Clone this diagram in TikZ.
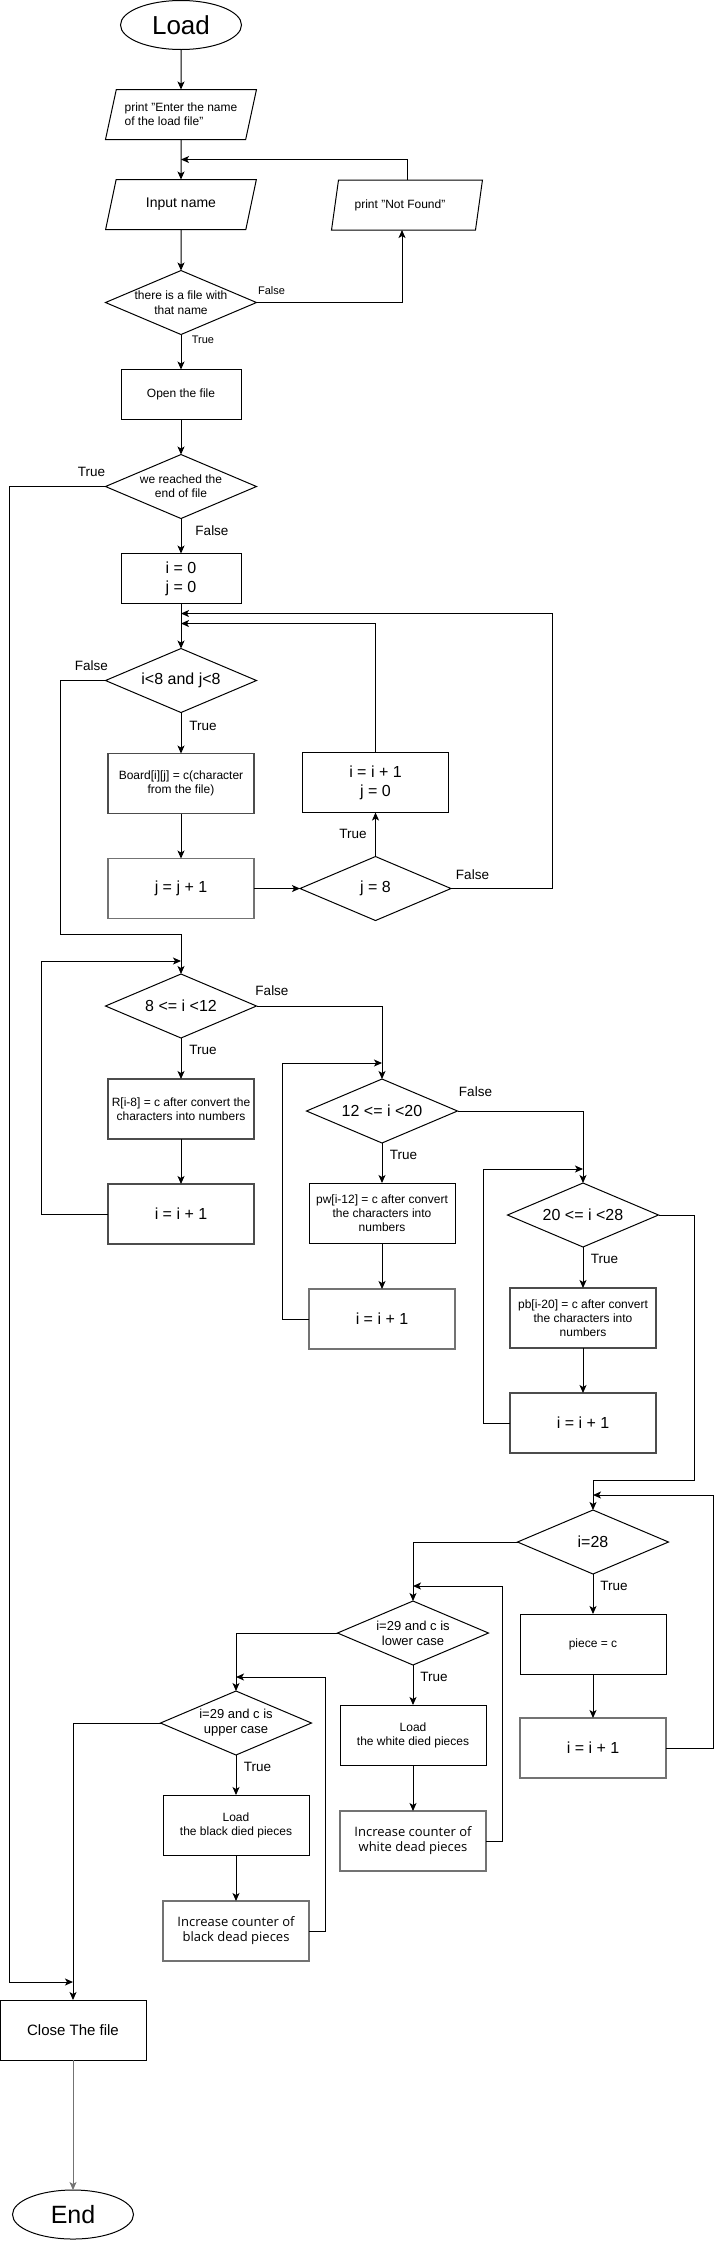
\documentclass[tikz,border=0pt]{standalone}
\usepackage{fontspec}
\setmainfont{Liberation Sans}
\newfontfamily\countfont{Open Sans}
\usetikzlibrary{shapes.geometric, arrows.meta, positioning, calc}
\newcommand{\fsz}[2]{\fontsize{#1pt}{#2pt}\selectfont}
\tikzset{
    terminal/.style={ellipse, draw, minimum width=121pt, minimum height=49pt, inner sep=0pt, font=\fsz{26}{30}},
    io/.style={trapezium, trapezium left angle=70, trapezium right angle=110, trapezium stretches=true, draw, minimum width=151pt, minimum height=50pt, inner sep=2pt, align=left, font=\fsz{12}{14}},
    box/.style={rectangle, draw, minimum width=146pt, minimum height=60pt, inner sep=2pt, align=center, font=\fsz{12}{14}},
    smallbox/.style={box, minimum width=120pt, minimum height=50pt},
    softbox/.style={box, draw=black!70, line width=1.3pt},
    graybox/.style={box, draw=black!55, line width=1.7pt},
    decision/.style={diamond, draw, minimum width=151pt, minimum height=64pt, inner sep=0pt},
    dtext/.style={align=center, inner sep=0pt},
    arrow/.style={-{Stealth[length=8pt, width=7pt, inset=2pt]}},
    lbl/.style={font=\fsz{13.5}{15}, inner sep=0pt},
    smalllbl/.style={font=\fsz{11}{13}, inner sep=0pt}
}
\begin{document}
\begin{tikzpicture}[x=1pt, y=-1pt, line width=1pt, every node/.style={outer sep=0pt}]
    \useasboundingbox (0,0) rectangle (719,2241);

    % start and file name
    \node[terminal] (load) at (181,25) {Load};
    \node[io, below=40pt of load] (enter) {print "Enter the name\\of the load file"};
    \node[io, below=40pt of enter, font=\fsz{14}{16}, align=center] (input) {Input name};
    \node[io, align=center] (notfound) at (407,205) {print "Not Found"\hspace*{14pt}};
    \node[decision, below=41pt of input, label={[dtext, font=\fsz{12}{14.5}]center:{there is a file with\\that name}}] (exists) {};
    \node[smallbox, below=35pt of exists] (open) {Open the file};

    % end of file check
    \node[decision, below=35pt of open, label={[dtext, font=\fsz{12}{14}]center:{we reached the\\end of file}}] (eof) {};
    \node[smallbox, below=35pt of eof, font=\fsz{16}{19}] (init) {i = 0\\j = 0};

    % board loop
    \node[decision, below=45pt of init, label={[dtext, font=\fsz{16}{19}]center:{i<8 and j<8}}] (inner) {};
    \node[softbox, below=41pt of inner] (board) {Board[i][j] = c(character\\from the file)};
    \node[graybox, below=45pt of board, font=\fsz{16}{19}] (jinc) {j = j + 1};
    \node[decision, right=46pt of jinc, label={[dtext, font=\fsz{16}{19}]center:{j = 8}}] (jeight) {};
    \node[box, above=44pt of jeight, font=\fsz{16}{19}] (inext) {i = i + 1\\j = 0};

    % R array
    \node[decision, label={[dtext, font=\fsz{16}{19}]center:{8 <= i <12}}] (rrange) at (181,1006) {};
    \node[softbox, below=41pt of rrange] (rset) {R[i-8] = c after convert the\\characters into numbers};
    \node[softbox, below=45pt of rset, font=\fsz{16}{19}] (rinc) {i = i + 1};

    % white pieces
    \node[decision, label={[dtext, font=\fsz{16}{19}]center:{12 <= i <20}}] (wrange) at (382,1111) {};
    \node[box, below=40pt of wrange] (wset) {pw[i-12] = c after convert\\the characters into\\numbers};
    \node[graybox, below=46pt of wset, font=\fsz{16}{19}] (winc) {i = i + 1};

    % black pieces
    \node[decision, label={[dtext, font=\fsz{16}{19}]center:{20 <= i <28}}] (brange) at (583,1215) {};
    \node[softbox, below=41pt of brange] (bset) {pb[i-20] = c after convert\\the characters into\\numbers};
    \node[softbox, below=45pt of bset, font=\fsz{16}{19}] (binc) {i = i + 1};

    % piece and dead pieces
    \node[decision, label={[dtext, font=\fsz{16}{19}]center:{i=28}}] (pcheck) at (593,1542) {};
    \node[box, below=40pt of pcheck] (piece) {piece = c};
    \node[graybox, below=44pt of piece, font=\fsz{16}{19}] (pinc) {i = i + 1};
    \node[decision, label={[dtext, font=\fsz{13}{15}]center:{i=29 and c is\\lower case}}] (lower) at (413,1633) {};
    \node[box, below=40pt of lower] (wload) {Load\\the white died pieces};
    \node[graybox, below=46pt of wload, font=\countfont\fsz{13}{15}] (wcount) {Increase counter of\\white dead pieces};
    \node[decision, label={[dtext, font=\fsz{13}{15}]center:{i=29 and c is\\upper case}}] (upper) at (236,1723) {};
    \node[box, below=40pt of upper] (bload) {Load\\the black died pieces};
    \node[graybox, below=46pt of bload, font=\countfont\fsz{13}{15}] (bcount) {Increase counter of\\black dead pieces};

    % close
    \node[box, font=\fsz{15}{18}] (close) at (73,2030) {Close The file};
    \node[terminal, below=130pt of close, font=\fsz{25}{30}] (end) {End};

    % connectors
    \coordinate (retry) at ($(enter.south)!0.5!(input.north)$);
    \coordinate (eofjoin) at ($(close.north)+(0,18pt)$);
    \draw[arrow] (load) -- (enter);
    \draw[arrow] (enter) -- (input);
    \draw[arrow] (notfound.north) |- (retry);
    \draw[arrow] (input) -- (exists);
    \draw[arrow] (exists.east) -| node[smalllbl, pos=0, xshift=15pt, yshift=12pt] {False} ([xshift=-5pt]notfound.south);
    \draw[arrow] (exists.south) -- node[smalllbl, pos=0, xshift=22pt, yshift=-5pt] {True} (open);
    \draw[arrow] (open) -- (eof);
    \draw[arrow] (eof.south) -- node[lbl, pos=0, xshift=31pt, yshift=-12.5pt] {False} (init);
    \draw[arrow] (eof.west) -- node[lbl, pos=0, xshift=-14pt, yshift=15pt] {True} ++(-96pt,0) |- (eofjoin);
    \draw[arrow] (init) -- (inner);
    \draw[arrow] (inner.south) -- node[lbl, pos=0, xshift=22pt, yshift=-13.5pt] {True} (board);
    \draw[arrow] (board) -- (jinc);
    \draw[arrow] (jinc) -- (jeight);
    \draw[arrow] (jeight.north) -- node[lbl, pos=0, xshift=-22.5pt, yshift=22.5pt] {True} (inext);
    \draw[arrow] (inext.north) |- ($(inner.north)+(0,25pt)$);
    \draw[arrow] (jeight.east) -- node[lbl, pos=0, xshift=21.5pt, yshift=13.5pt] {False} ++(101pt,0) |- ($(inner.north)+(0,35pt)$);
    \draw[arrow] (inner.west) -- node[lbl, pos=0, xshift=-14pt, yshift=14.5pt] {False} ++(-45pt,0) |- ($(rrange.north)+(0,40pt)$) -- (rrange.north);
    \draw[arrow] (rrange.south) -- node[lbl, pos=0, xshift=22pt, yshift=-11.5pt] {True} (rset);
    \draw[arrow] (rset) -- (rinc);
    \draw[arrow] (rinc.west) -- ++(-67pt,0) |- ($(rrange.north)+(0,13pt)$);
    \draw[arrow] (rrange.east) -| node[lbl, pos=0, xshift=15.5pt, yshift=15.5pt] {False} (wrange.north);
    \draw[arrow] (wrange.south) -- node[lbl, pos=0, xshift=21.5pt, yshift=-12pt] {True} (wset);
    \draw[arrow] (wset) -- (winc);
    \draw[arrow] (winc.west) -- ++(-27pt,0) |- ($(wrange.north)+(0,16pt)$);
    \draw[arrow] (wrange.east) -| node[lbl, pos=0, xshift=18pt, yshift=19pt] {False} (brange.north);
    \draw[arrow] (brange.south) -- node[lbl, pos=0, xshift=21.5pt, yshift=-12pt] {True} (bset);
    \draw[arrow] (bset) -- (binc);
    \draw[arrow] (binc.west) -- ++(-27pt,0) |- ($(brange.north)+(0,14pt)$);
    \draw[arrow] (brange.east) -- ++(36pt,0) |- ($(pcheck.north)+(0,30pt)$) -- (pcheck.north);
    \draw[arrow] (pcheck.south) -- node[lbl, pos=0, xshift=21pt, yshift=-12pt] {True} (piece);
    \draw[arrow] (piece) -- (pinc);
    \draw[arrow] (pinc.east) -- ++(47pt,0) |- ($(pcheck.north)+(0,15pt)$);
    \draw[arrow] (pcheck.west) -| (lower.north);
    \draw[arrow] (lower.south) -- node[lbl, pos=0, xshift=21pt, yshift=-11.5pt] {True} (wload);
    \draw[arrow] (wload) -- (wcount);
    \draw[arrow] (wcount.east) -- ++(16pt,0) |- ($(lower.north)+(0,15pt)$);
    \draw[arrow] (lower.west) -| (upper.north);
    \draw[arrow] (upper.south) -- node[lbl, pos=0, xshift=21.5pt, yshift=-11.5pt] {True} (bload);
    \draw[arrow] (bload) -- (bcount);
    \draw[arrow] (bcount.east) -- ++(16pt,0) |- ($(upper.north)+(0,14pt)$);
    \draw[arrow] (upper.west) -| (close.north);
    \draw[arrow, draw=black!55] (close) -- (end);
\end{tikzpicture}
\end{document}
